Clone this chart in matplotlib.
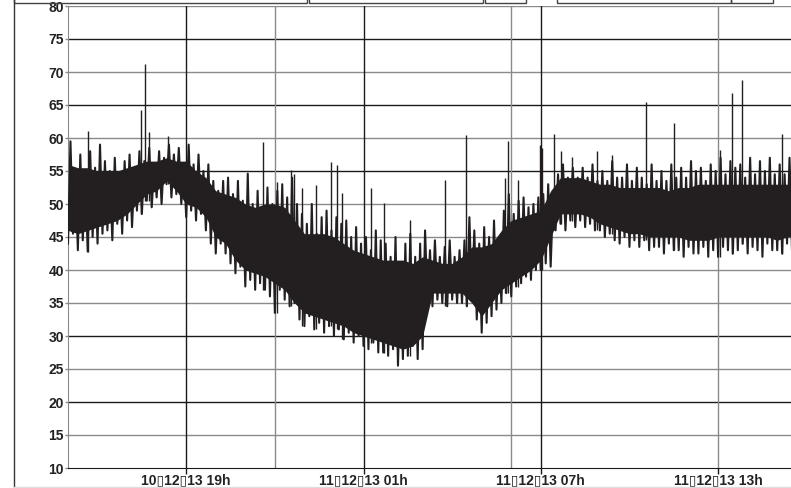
import numpy as np
import pandas as pd
import matplotlib.pyplot as plt
from matplotlib.lines import Line2D
from matplotlib.patches import Rectangle

plt.rcParams['font.family'] = ['Liberation Sans', 'DejaVu Sans']

start = "2013-12-10 15:00"

# min / max of the level in each 10 minute window, from 10/12/13 15:00
lows = [44, 45.5, 43, 44.5, 42.8, 45, 44, 45.5,
        46, 44.5, 47, 45.5, 47.5, 46.5, 49, 48.5,
        50.5, 49.5, 51, 50, 53, 51, 51.5, 50,
        48, 49, 47.5, 48.5, 46, 44, 42.5, 44,
        42.5, 41, 39.5, 40.5, 37.5, 38.5, 37, 38,
        37, 36, 33.5, 37, 35.5, 34.5, 35, 32.5,
        31.5, 33, 31, 32, 30.5, 31.5, 30, 31,
        29.5, 30.5, 29, 30, 28.5, 28, 29, 27.5,
        27.5, 27, 28, 25.5, 26.5, 27, 28.5, 26.5,
        28, 35, 34.5, 35.5, 35, 34.5, 35.5, 35,
        35, 34.5, 35.5, 32.5, 30.5, 32, 33, 34,
        35, 36.5, 36, 37.5, 38, 39, 38.5, 40,
        40, 41, 40.5, 46, 47, 46, 47.5, 46.5,
        47.5, 46.5, 47, 46, 46, 45, 45.5, 44.5,
        44, 45, 43.5, 44.5, 43.5, 44.5, 43, 43.5,
        43.5, 42.5, 44, 43, 43, 42, 43.5, 42.5,
        42.5, 43.5, 42, 43, 42, 43.5, 43, 42.5,
        43, 44, 42.5, 43.5, 43, 42, 44, 43,
        43, 42.5, 44, 43]
highs = [59.5, 55, 57.5, 54.5, 58, 55.5, 59, 56.5,
         55, 57, 54.5, 56.5, 57.5, 55, 58, 56.5,
         58.5, 56, 58, 57, 59, 57.5, 58.5, 56,
         59, 56, 57.5, 55, 56, 53.5, 52, 53.5,
         54, 51.5, 53.5, 50.5, 54.6, 50, 52, 49.5,
         52.5, 50, 52, 53, 51, 54, 50, 48.5,
         47, 50, 45.5, 48, 49, 46, 48, 47,
         47.5, 45, 46.5, 44, 45, 43, 46, 44.5,
         44, 42, 45, 41, 44, 45.5, 42, 44,
         46, 43, 44.5, 42, 43.5, 44.5, 42, 43,
         44.5, 48, 46, 44, 46.5, 45, 47.5, 44.5,
         49, 51.5, 48.5, 50.5, 51, 49.5, 50, 51,
         51.5, 53, 51, 54.5, 56, 54, 55.5, 54,
         55.5, 54, 56, 53.5, 55, 53.5, 56.5, 54,
         54, 56, 53.5, 55.5, 54, 53, 56, 53.5,
         55, 53.5, 56, 54, 55.5, 54, 56.5, 55,
         55.5, 53.5, 56, 55, 57, 54.5, 56.5, 55.5,
         56, 54, 57, 54.5, 56.5, 55, 57, 54.5,
         56, 54.5, 57, 55]

# dense core of the trace, every 20 minutes
core_lo = [46, 45.5, 46, 46.5, 47, 47.5, 48.5, 50, 51.5, 52,
           53.5, 52, 50, 49.5, 48, 45, 44, 41.5, 40, 39.5,
           39, 38, 37, 35, 33.5, 33, 32.5, 32, 31.5, 30.5,
           30, 29.5, 29, 28.5, 28, 28.5, 30, 36.5, 36.5, 36.5,
           36.5, 35, 33, 35, 37, 38, 39, 40, 41.5, 45,
           48.5, 48.5, 48.5, 48, 47, 46.5, 46, 45.5, 45.5, 45,
           45, 45, 45, 44.5, 44.5, 44.5, 45, 45, 45, 45,
           45, 45, 44.5, 45, 45]
core_hi = [56, 55.5, 55.5, 55, 55, 55, 55.5, 56, 56.5, 56.5,
           57, 56.5, 56.5, 55, 54, 52, 51.5, 51, 50, 49.5,
           50, 50, 49.5, 47.5, 45.5, 45.5, 45.5, 45, 44, 43,
           42.5, 42, 41.5, 41.5, 41.5, 41, 42, 41.5, 41, 41,
           42, 43.5, 43.5, 44, 46, 47.5, 48, 48.5, 49, 52,
           54, 54, 54, 53.5, 53, 53, 52.5, 52.5, 52.5, 52.5,
           52.5, 52, 52.5, 52.5, 53, 53, 53, 53, 53, 53,
           53, 53, 53, 53, 53]

# single short peaks
spike_times = ["2013-12-10 15:41", "2013-12-10 17:28", "2013-12-10 17:37",
               "2013-12-10 17:44", "2013-12-10 18:23", "2013-12-10 21:36",
               "2013-12-10 22:04", "2013-12-10 22:33", "2013-12-10 22:39",
               "2013-12-10 22:55", "2013-12-10 23:23", "2013-12-10 23:54",
               "2013-12-11 00:06", "2013-12-11 00:16", "2013-12-11 01:15",
               "2013-12-11 01:41", "2013-12-11 02:34", "2013-12-11 03:46",
               "2013-12-11 04:28", "2013-12-11 05:47", "2013-12-11 05:53",
               "2013-12-11 06:14", "2013-12-11 06:58", "2013-12-11 07:02",
               "2013-12-11 07:27", "2013-12-11 07:41", "2013-12-11 08:04",
               "2013-12-11 08:54", "2013-12-11 09:25", "2013-12-11 10:34",
               "2013-12-11 11:31", "2013-12-11 13:04", "2013-12-11 13:28",
               "2013-12-11 13:49", "2013-12-11 15:10"]
spike_values = [61.0, 64.3, 71.2, 60.9, 60.3, 59.4, 53.4, 55.1, 54.6, 52.5,
                52.9, 56.4, 55.9, 51.6, 52.4, 50.1, 47.6, 53.6, 60.4, 53.9,
                59.6, 53.6, 58.9, 58.5, 60.6, 58.1, 57.1, 58.1, 57.4, 65.5,
                62.2, 58.2, 66.8, 68.8, 60.6]

tick_times = ["2013-12-10 19:00", "2013-12-11 01:00", "2013-12-11 07:00", "2013-12-11 13:00"]
tick_labels = ["10\u25af12\u25af13 19h", "11\u25af12\u25af13 01h",
               "11\u25af12\u25af13 07h", "11\u25af12\u25af13 13h"]
dark_vlines = ["2013-12-10 19:00", "2013-12-11 01:00", "2013-12-11 07:00"]
grey_vlines = ["2013-12-10 22:00", "2013-12-11 06:00", "2013-12-11 13:00"]
y_ticks = list(range(10, 85, 5))
dark_hlines = [20, 30, 55, 65, 75]

times = pd.date_range(start, periods=len(lows), freq="10min")
core_times = pd.date_range(start, periods=len(core_lo), freq="20min")
tt = np.empty(2 * len(lows), dtype="datetime64[ns]")
tt[0::2] = times.values
tt[1::2] = (times + pd.Timedelta(minutes=5)).values
vv = np.empty(2 * len(lows))
vv[0::2] = lows
vv[1::2] = highs

fig = plt.figure(figsize=(7.91, 4.88), dpi=100)
ax = fig.add_axes([68 / 791, 1 - 468 / 488, 1 - 68 / 791, 462 / 488])

for y in y_ticks[1:]:
    col = '#1a1a1a' if y in dark_hlines else '#8a8a8a'
    ax.axhline(y, color=col, lw=1.0, zorder=1)
for t in dark_vlines:
    ax.axvline(pd.Timestamp(t), color='#1a1a1a', lw=1.0, zorder=1)
for t in grey_vlines:
    ax.axvline(pd.Timestamp(t), color='#8a8a8a', lw=1.0, zorder=1)

line_col = '#231f20'
ax.fill_between(core_times, core_lo, core_hi, color=line_col, lw=0, zorder=2)
ax.plot(tt, vv, color=line_col, lw=1.5, zorder=3)

sp_t = pd.to_datetime(spike_times)
idx = np.round((sp_t - pd.Timestamp(start)) / pd.Timedelta(minutes=10)).astype(int)
idx = np.clip(idx, 0, len(lows) - 1)
ax.vlines(sp_t, np.array(lows)[idx], spike_values, color=line_col, lw=1.0, zorder=3)

ax.set_xlim(pd.Timestamp(start), pd.Timestamp("2013-12-11 15:28"))
ax.set_ylim(10, 80)
ax.set_yticks(y_ticks)
ax.set_yticklabels([str(v) for v in y_ticks], fontsize=10, fontweight='bold', color='#222222')
ax.set_xticks(pd.to_datetime(tick_times))
ax.set_xticklabels(tick_labels, fontsize=10, fontweight='bold', color='#222222')
ax.tick_params(axis='x', length=4, width=1, color='#1a1a1a', pad=0)
ax.tick_params(axis='y', length=2, width=1, color='#8a8a8a', pad=1)

for s in ['right', 'top']:
    ax.spines[s].set_visible(False)
ax.spines['left'].set_color('#8a8a8a')
ax.spines['bottom'].set_color('#1a1a1a')
ax.spines['bottom'].set_zorder(4)

# page frame around the chart
W, H = 791, 488
fig.add_artist(Line2D([14 / W, 14 / W], [0, 1], color='#333333', lw=1.0))
fig.add_artist(Line2D([14 / W, 1], [1 / H, 1 / H], color='#dddddd', lw=1.0))
for x0, x1 in [(14, 307), (309, 483), (485, 526), (557, 731), (731, 773)]:
    fig.add_artist(Rectangle((x0 / W, 1 - 2.5 / H), (x1 - x0) / W, 10 / H,
                             fill=False, edgecolor='#444444', lw=1.0))

plt.savefig("out.png", dpi=100)
